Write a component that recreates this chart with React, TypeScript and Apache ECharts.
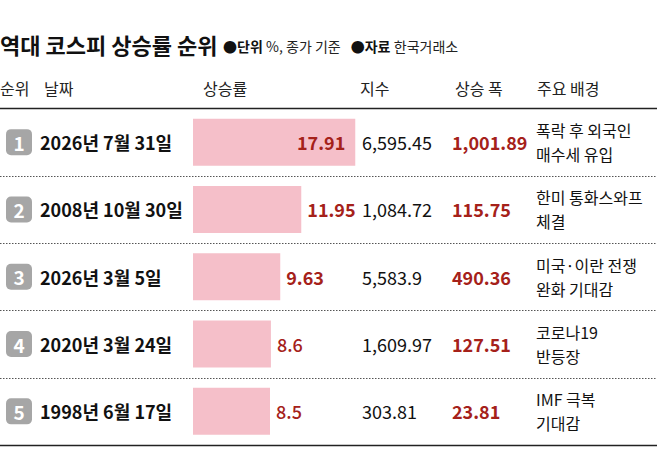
import React, { useEffect, useRef } from 'react';
import * as echarts from 'echarts';

const FONT = '"Noto Sans CJK KR", "Noto Sans", sans-serif';
const RED = '#a5211a';

// 표 데이터
const dates = ['2026년 7월 31일', '2008년 10월 30일', '2026년 3월 5일', '2020년 3월 24일', '1998년 6월 17일'];
const gains = [17.91, 11.95, 9.63, 8.6, 8.5];
const indexValues = ['6,595.45', '1,084.72', '5,583.9', '1,609.97', '303.81'];
const pointGains = ['1,001.89', '115.75', '490.36', '127.51', '23.81'];
const backgrounds = [
  '폭락 후 외국인\n매수세 유입',
  '한미 통화스와프\n체결',
  '미국·이란 전쟁\n완화 기대감',
  '코로나19\n반등장',
  'IMF 극복\n기대감',
];
const headers = ['순위', '날짜', '상승률', '지수', '상승 폭', '주요 배경'];
const headerX = [0, 44, 203, 360, 455, 537];

const App: React.FC = () => {
  const chartRef: any = useRef(null);

  useEffect(() => {
    const chart = echarts.init(chartRef.current, undefined, { renderer: 'svg' });
    const option: any = {
      animation: false,
      backgroundColor: '#fff',
      textStyle: { fontFamily: FONT },
      title: {
        text: '역대 코스피 상승률 순위',
        left: 0,
        top: 33,
        padding: 0,
        textStyle: { fontFamily: FONT, fontSize: 22, fontWeight: 'bold', color: '#111' },
      },
      graphic: [
        {
          type: 'text',
          x: 223,
          y: 46,
          style: {
            text: '{b|●단위} {n|%, 종가 기준}   {b|●자료} {n|한국거래소}',
            verticalAlign: 'middle',
            rich: {
              b: { fontFamily: FONT, fontSize: 14, fontWeight: 'bold', fill: '#111' },
              n: { fontFamily: FONT, fontSize: 14, fill: '#222' },
            },
          },
        },
        ...headers.map((h, i) => ({
          type: 'text',
          x: headerX[i],
          y: 88,
          style: { text: h, fontFamily: FONT, fontSize: 16, fill: '#222', verticalAlign: 'middle' },
        })),
        {
          type: 'line',
          shape: { x1: 0, y1: 108.5, x2: 657, y2: 108.5 },
          style: { stroke: '#222', lineWidth: 1.5 },
        },
      ],
      grid: { left: 193, right: 12, top: 108.5, bottom: 15 },
      xAxis: { type: 'value', min: 0, max: 50, show: false },
      yAxis: {
        type: 'category',
        inverse: true,
        data: dates,
        axisLine: { show: false },
        axisTick: { show: false },
        splitLine: { show: false },
        axisLabel: {
          align: 'left',
          margin: 187,
          formatter: (value: string, index: number) => `{badge|${index + 1}}{date|${value}}`,
          rich: {
            badge: {
              width: 26,
              height: 26,
              lineHeight: 26,
              align: 'center',
              backgroundColor: '#a6a6a6',
              borderRadius: 5,
              color: '#fff',
              fontFamily: FONT,
              fontSize: 19,
              fontWeight: 'bold',
            },
            date: {
              fontFamily: FONT,
              fontSize: 18,
              fontWeight: 'bold',
              color: '#111',
              padding: [0, 0, 0, 8],
            },
          },
        },
      },
      series: [
        {
          type: 'bar',
          barWidth: 47,
          itemStyle: { color: '#f5bfc9' },
          label: {
            show: true,
            position: 'right',
            distance: 6,
            color: RED,
            fontFamily: FONT,
            fontSize: 18,
            fontWeight: 'bold',
          },
          data: gains.map((v, i) => ({
            value: v,
            label:
              i === 0
                ? { position: 'insideRight', distance: 10 }
                : i >= 3
                ? { fontWeight: 500 }
                : {},
          })),
        },
        {
          type: 'custom',
          silent: true,
          data: gains.map((_, i) => [0, i]),
          encode: { x: 0, y: 1 },
          renderItem: (params: any, api: any) => {
            const i = params.dataIndex;
            const c = api.coord([0, i]);
            const h = api.size([0, 1])[1];
            const y = c[1];
            const bottom = Math.round(y + h / 2) + 0.5;
            const last = i === dates.length - 1;
            return {
              type: 'group',
              children: [
                {
                  type: 'text',
                  x: 362,
                  y,
                  style: { text: indexValues[i], fontFamily: FONT, fontSize: 18, fill: '#111', verticalAlign: 'middle' },
                },
                {
                  type: 'text',
                  x: 452,
                  y,
                  style: {
                    text: pointGains[i],
                    fontFamily: FONT,
                    fontSize: 18,
                    fontWeight: 'bold',
                    fill: RED,
                    verticalAlign: 'middle',
                  },
                },
                {
                  type: 'text',
                  x: 536,
                  y,
                  style: {
                    text: backgrounds[i],
                    fontFamily: FONT,
                    fontSize: 16,
                    lineHeight: 24,
                    fill: '#111',
                    verticalAlign: 'middle',
                  },
                },
                {
                  type: 'line',
                  shape: { x1: 0, y1: bottom, x2: 657, y2: bottom },
                  style: last
                    ? { stroke: '#222', lineWidth: 1.5 }
                    : { stroke: '#555', lineWidth: 1, lineDash: [1.5, 1.5] },
                },
              ],
            };
          },
        },
      ],
    };
    chart.setOption(option);
    return () => {
      chart.dispose();
    };
  }, []);

  return (
    <div
      ref={chartRef}
      style={{ position: 'fixed', left: 0, top: 0, width: 658, height: 460, background: '#fff' }}
    ></div>
  );
};

export default App;
